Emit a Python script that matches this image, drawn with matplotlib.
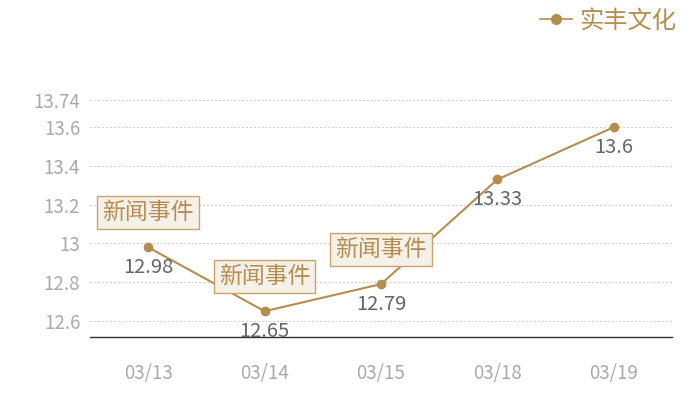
import matplotlib
matplotlib.use("Agg")
import matplotlib.pyplot as plt
from matplotlib.lines import Line2D

plt.rcParams['font.family'] = ['Noto Sans CJK SC', 'DejaVu Sans']

dates = ["03/13", "03/14", "03/15", "03/18", "03/19"]
values = [12.98, 12.65, 12.79, 13.33, 13.6]
series_name = "实丰文化"
event_idx = [0, 1, 2]
event_text = "新闻事件"
yticks = [12.6, 12.8, 13.0, 13.2, 13.4, 13.6, 13.74]
ytick_labels = ["12.6", "12.8", "13", "13.2", "13.4", "13.6", "13.74"]

gold = "#b58d4f"
fig = plt.figure(figsize=(7, 4), dpi=100)
ax = fig.add_axes([90/700, 63/400, 582/700, 237/400])

x = list(range(len(dates)))
ax.plot(x, values, color=gold, lw=1.5, marker='o', ms=6, zorder=3)
ax.set_xlim(-0.5, len(dates) - 0.5)
ax.set_ylim(12.517, 13.74)

ax.set_yticks(yticks)
ax.set_yticklabels(ytick_labels)
ax.set_xticks(x)
ax.set_xticklabels(dates)
ax.tick_params(axis='both', length=0, colors='#aaaaaa', labelsize=13.5)
ax.tick_params(axis='x', pad=19)
ax.tick_params(axis='y', pad=7)

for sp in ['top', 'right', 'left']:
    ax.spines[sp].set_visible(False)
ax.spines['bottom'].set_color('#333333')
ax.spines['bottom'].set_linewidth(1)
ax.grid(axis='y', color='#cccccc', ls=(0, (2, 2)), lw=0.7)
ax.set_axisbelow(True)

for xi, v in zip(x, values):
    ax.annotate(f"{v:g}", (xi, v), xytext=(0, -7), textcoords='offset points',
                ha='center', va='top', fontsize=14.5, color='#666666', zorder=4)

for i in event_idx:
    ax.annotate(event_text, (x[i], values[i]), xytext=(0, 25), textcoords='offset points',
                ha='center', va='center', fontsize=16.5, color=gold, zorder=5,
                bbox=dict(boxstyle='square,pad=0.22', fc='#f5f0e8', ec='#c8a46a', lw=1))

handle = Line2D([0], [0], color=gold, lw=1.2, marker='o', ms=7)
leg = fig.legend([handle], [series_name], loc='upper right', bbox_to_anchor=(0.997, 1.035),
                 frameon=False, fontsize=17.5, handlelength=1.3, handletextpad=0.3,
                 labelcolor=gold)

fig.savefig("out.png", dpi=100)
